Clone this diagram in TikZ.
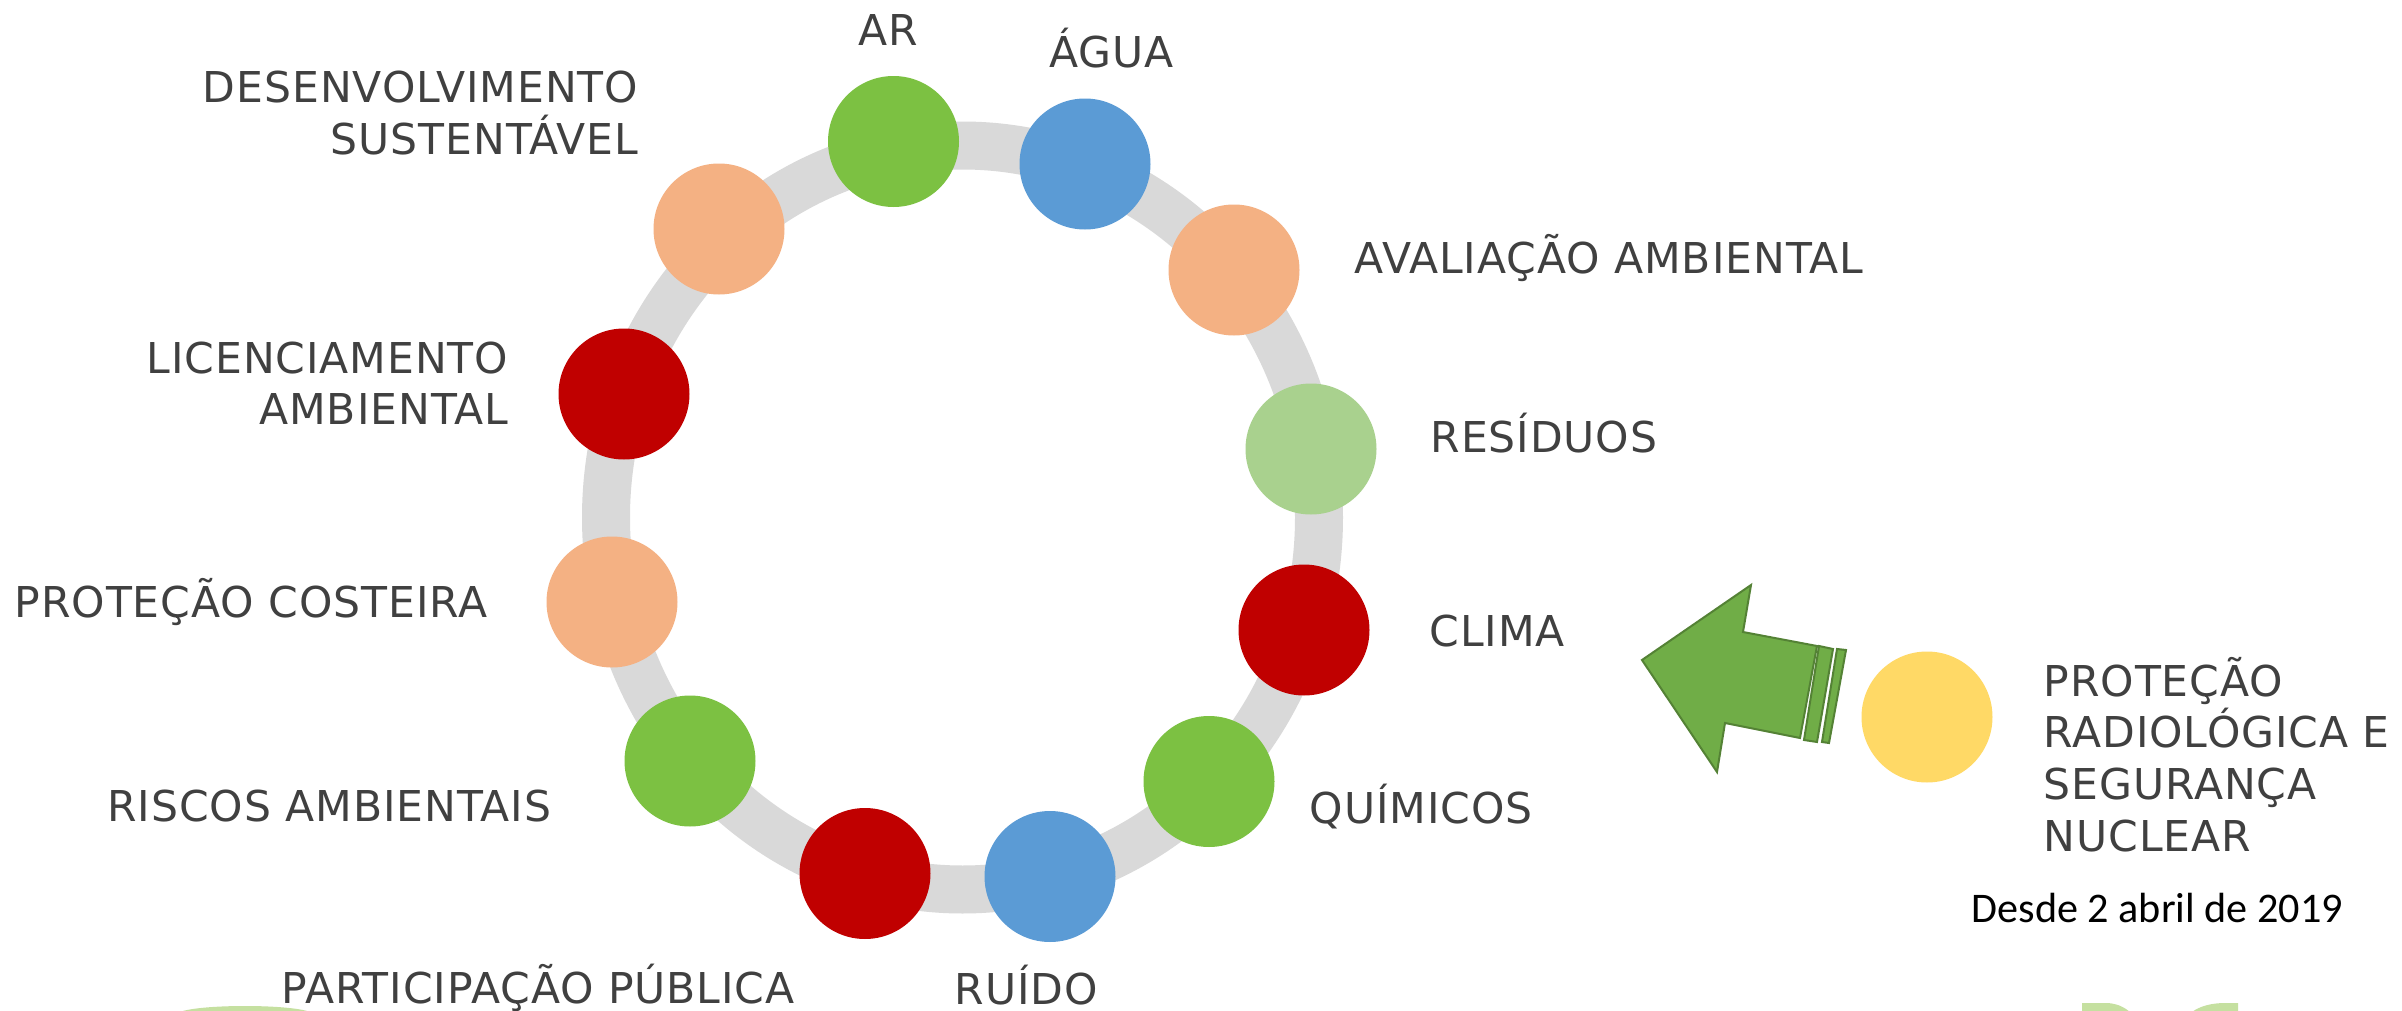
\documentclass[tikz,border=0pt]{standalone}
\usepackage{fontspec}
\setmainfont[LetterSpace=2.2]{DejaVu Sans}
\newfontfamily\calibfont{Carlito}
\definecolor{txt}{HTML}{404040}
\definecolor{ringgray}{HTML}{D9D9D9}
\definecolor{cgreen}{HTML}{7CC142}
\definecolor{cblue}{HTML}{5B9BD5}
\definecolor{cpeach}{HTML}{F4B183}
\definecolor{clight}{HTML}{A9D18E}
\definecolor{cred}{HTML}{C00000}
\definecolor{cyellow}{HTML}{FFD966}
\definecolor{arrowfill}{HTML}{70AD47}
\definecolor{arrowline}{HTML}{548235}
\definecolor{faint}{HTML}{C5E0A0}
\newcommand\rlines[1]{\vtop{\baselineskip=15.5pt\lineskiplimit=-50pt\halign{\hfil##\cr#1\crcr}}}
\newcommand\llines[1]{\vtop{\baselineskip=15.5pt\lineskiplimit=-50pt\halign{##\hfil\cr#1\crcr}}}
\begin{document}
\begin{tikzpicture}[x=0.3pt,y=-0.3pt,
  dot/.style={circle,minimum size=39.3pt,inner sep=0pt,draw=none},
  lab/.style={text=txt,inner sep=0pt,font=\fontsize{12.75}{15.5}\selectfont},
  arrowshape/.style={fill=arrowfill,draw=arrowline,line width=0.6pt,line join=miter}]
\useasboundingbox (0,0) rectangle (2402,1011);
\clip (0,0) rectangle (2402,1011);
\fill[white] (0,0) rectangle (2402,1011);

% ring
\coordinate (ringc) at (962.5,517.5);
\draw[ringgray,line width=14.4pt] (ringc) ellipse [x radius=356.5,y radius=372];

% circles
\node[dot,fill=cgreen] (ar) at (893.5,141.5) {};
\node[dot,fill=cblue] (agua) at (1085,164) {};
\node[dot,fill=cpeach] (aval) at (1234,270) {};
\node[dot,fill=clight] (resid) at (1311,449) {};
\node[dot,fill=cred] (clima) at (1304,630) {};
\node[dot,fill=cgreen] (quim) at (1209,781.5) {};
\node[dot,fill=cblue] (ruido) at (1050,876.5) {};
\node[dot,fill=cred] (partic) at (865,873.5) {};
\node[dot,fill=cgreen] (riscos) at (690,761) {};
\node[dot,fill=cpeach] (costeira) at (612,602) {};
\node[dot,fill=cred] (licen) at (624,394) {};
\node[dot,fill=cpeach] (desenv) at (719,229) {};
\node[dot,fill=cyellow] (prn) at (1927,717) {};

% labels
\node[lab,anchor=base] (arT) at (888,45) {AR};
\node[lab,anchor=base] (aguaT) at (1111.5,68) {ÁGUA};
\node[lab,anchor=base west] (avalT) at (1354,273) {AVALIAÇÃO AMBIENTAL};
\node[lab,anchor=base west] (residT) at (1430,452) {RESÍDUOS};
\node[lab,anchor=base west] (climaT) at (1429,646) {CLIMA};
\node[lab,anchor=base west] (quimT) at (1309,823) {QUÍMICOS};
\node[lab,anchor=base west] (ruidoT) at (954,1004) {RUÍDO};
\node[lab,anchor=base west] (particT) at (281,1003) {PARTICIPAÇÃO PÚBLICA};
\node[lab,anchor=base east] (riscosT) at (552,821) {RISCOS AMBIENTAIS};
\node[lab,anchor=base west] (costeiraT) at (14,617) {PROTEÇÃO COSTEIRA};
\node[lab,anchor=base east] (licenT) at (509,373) {\rlines{LICENCIAMENTO\cr AMBIENTAL}};
\node[lab,anchor=base east] (desenvT) at (639,103) {\rlines{DESENVOLVIMENTO\cr SUSTENTÁVEL}};
\node[lab,anchor=base west] (prnT) at (2043,696) {\llines{PROTEÇÃO\cr RADIOLÓGICA E\cr SEGURANÇA\cr NUCLEAR}};
\node[inner sep=0pt,anchor=base west,font=\calibfont\fontsize{12.66}{15}\selectfont,text=black] (desde) at (1971,922) {Desde 2 abril de 2019};

% arrow
\draw[arrowshape] (1642,660) -- (1751,585) -- (1743,632) -- (1817,646) -- (1800,738) -- (1725,723) -- (1717,772) -- cycle;
\draw[arrowshape] (1819,646) -- (1833,649) -- (1817,742) -- (1804,740) -- cycle;
\draw[arrowshape] (1837,649) -- (1846,650) -- (1829,743) -- (1822,742) -- cycle;

% faint shapes at the bottom edge
\fill[faint] (180,1012) .. controls (200,1004) and (290,1004) .. (310,1012) -- cycle;
\fill[faint] (2082,1012) -- (2082,1003) -- (2108,1003) .. controls (2118,1004) and (2124,1007) .. (2130,1012) -- cycle;
\fill[faint] (2192,1012) .. controls (2200,1006) and (2212,1003) .. (2225,1003) -- (2238,1003) -- (2238,1012) -- cycle;
\end{tikzpicture}
\end{document}
